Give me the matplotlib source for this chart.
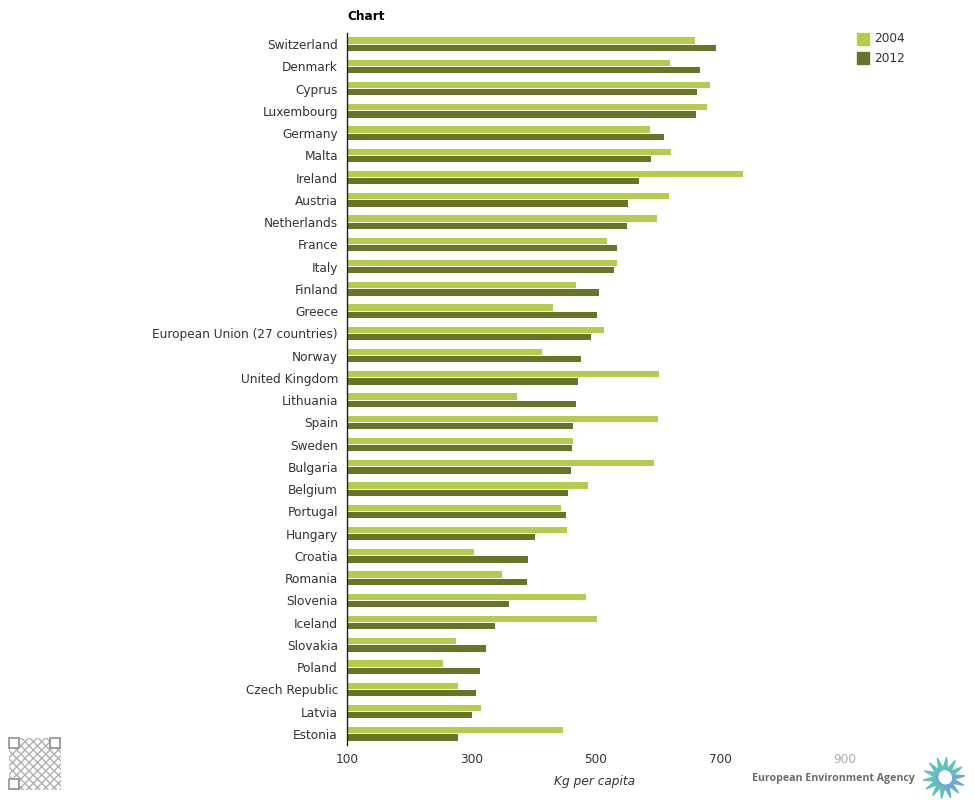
import matplotlib
matplotlib.use("Agg")
import matplotlib.pyplot as plt
import numpy as np
from matplotlib.patches import Rectangle, Polygon, Circle

countries = ["Switzerland", "Denmark", "Cyprus", "Luxembourg", "Germany", "Malta",
             "Ireland", "Austria", "Netherlands", "France", "Italy", "Finland",
             "Greece", "European Union (27 countries)", "Norway", "United Kingdom",
             "Lithuania", "Spain", "Sweden", "Bulgaria", "Belgium", "Portugal",
             "Hungary", "Croatia", "Romania", "Slovenia", "Iceland", "Slovakia",
             "Poland", "Czech Republic", "Latvia", "Estonia"]
v2004 = [659, 619, 683, 678, 587, 621, 736, 617, 598, 518, 534, 468,
         431, 513, 413, 601, 373, 600, 463, 593, 487, 444, 453, 304,
         349, 484, 502, 275, 255, 278, 316, 447]
v2012 = [693, 667, 662, 661, 609, 588, 569, 551, 550, 534, 529, 505,
         502, 492, 476, 471, 468, 463, 461, 460, 455, 452, 402, 390,
         389, 361, 337, 323, 313, 307, 300, 278]
series_names = ["2004", "2012"]
xticks = [100, 300, 500, 700, 900]

C04 = "#b5cb4c"
C12 = "#6b7329"
TXT = "#333333"
FS = 8.75

W, H = 975, 800
fig = plt.figure(figsize=(W / 100, H / 100), dpi=100)

def fx(px):
    return px / W

def fy(py):
    return 1 - py / H

ax = fig.add_axes([fx(347), fy(745), (845 - 347) / W, (745 - 33) / H])
y = np.arange(len(countries))
base = 100
ax.barh(y - 0.16, np.array(v2004) - base, left=base, height=0.28, color=C04, label=series_names[0])
ax.barh(y + 0.16, np.array(v2012) - base, left=base, height=0.28, color=C12, label=series_names[1])
ax.set_ylim(len(countries) - 0.5, -0.5)
ax.set_xlim(100, 900)
ax.set_yticks(y)
ax.set_yticklabels(countries, fontsize=FS, color=TXT)
ax.set_xticks(xticks)
ax.set_xticklabels([str(t) for t in xticks], fontsize=FS, color=TXT)
ax.get_xticklabels()[-1].set_color("#aaaaaa")
ax.tick_params(axis="y", length=0, pad=6.5)
ax.tick_params(axis="x", length=0, pad=5.5)
for s in ["top", "right", "bottom"]:
    ax.spines[s].set_visible(False)
ax.spines["left"].set_color("#222222")
ax.spines["left"].set_linewidth(1.0)

# title and axis label
fig.text(fx(347), fy(16), "Chart", fontsize=FS, fontweight="bold", color="#000000",
         ha="left", va="center")
fig.text(fx(595), fy(781), "Kg per capita", fontsize=FS, style="italic", color=TXT,
         ha="center", va="center")

# legend
for i, (name, col) in enumerate(zip(series_names, [C04, C12])):
    yy = 33 + i * 19
    fig.patches.append(Rectangle((fx(857), fy(yy + 12)), 12 / W, 12 / H,
                                 transform=fig.transFigure, color=col))
    fig.text(fx(874), fy(yy + 6), name, fontsize=FS, color=TXT, ha="left", va="center")

# QR-like decoration
fig.patches.append(Rectangle((fx(9), fy(790)), 52 / W, 52 / H, transform=fig.transFigure,
                             facecolor="white", edgecolor="#b0b0b0", hatch="xxxx", linewidth=0.0))
for (qx, qy) in [(9, 738), (50, 738), (9, 779)]:
    fig.patches.append(Rectangle((fx(qx), fy(qy + 10)), 10 / W, 10 / H, transform=fig.transFigure,
                                 facecolor="white", edgecolor="#909090", linewidth=1.2))

# EEA footer
fig.text(fx(915), fy(779), "European Environment Agency", fontsize=7.6, fontweight="bold",
         color="#6a6a6a", ha="right", va="center", family="Open Sans")

cx, cy = 944, 778
npet = 14
for k in range(npet):
    a = 2 * np.pi * k / npet + 0.1
    col = "#5ec2b6" if (np.cos(a) < 0.3 or np.sin(a) > 0.5) else "#6fa7d4"
    r1, r2 = 9, 21
    da = 0.26
    pts = [(cx + r1 * np.cos(a - da), cy - r1 * np.sin(a - da)),
           (cx + r2 * np.cos(a), cy - r2 * np.sin(a)),
           (cx + r1 * np.cos(a + da), cy - r1 * np.sin(a + da))]
    fig.patches.append(Polygon([(fx(px), fy(py)) for px, py in pts], closed=True,
                               transform=fig.transFigure, color=col))
axl = fig.add_axes([fx(cx - 11), fy(cy + 11), 22 / W, 22 / H])
axl.set_xlim(-1, 1)
axl.set_ylim(-1, 1)
axl.set_aspect("equal")
axl.axis("off")
axl.add_patch(Circle((0, 0), 0.95, color="#6fa7d4"))
axl.add_patch(Circle((0.15, 0.08), 0.6, color="white"))

fig.savefig("out.png", dpi=100, facecolor="white")
